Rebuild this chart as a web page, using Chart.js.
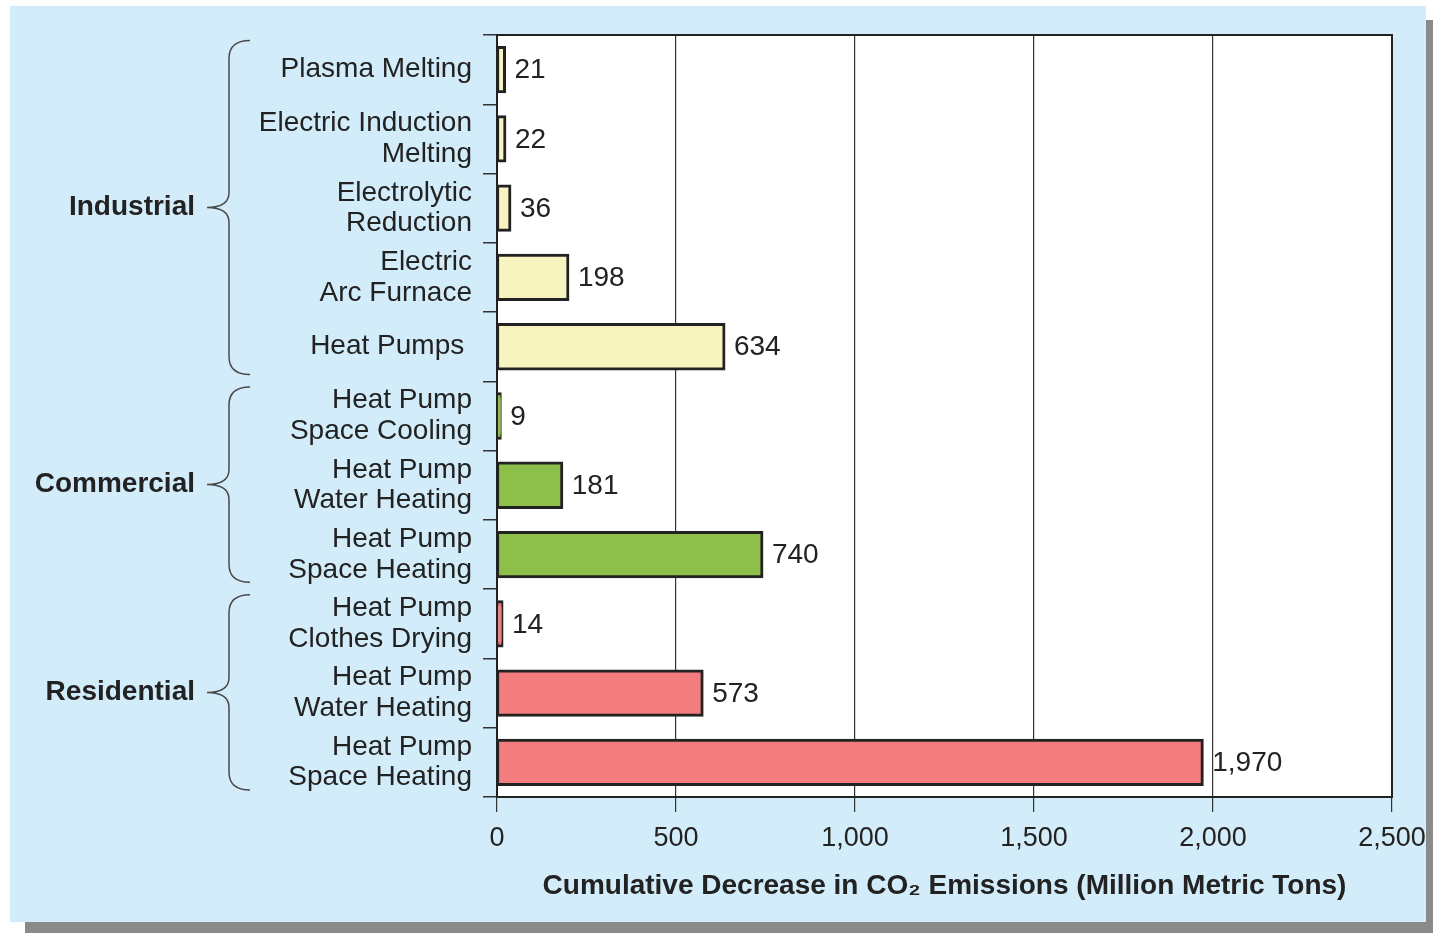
<!DOCTYPE html>
<html>
<head>
<meta charset="utf-8">
<script src="https://cdn.jsdelivr.net/npm/chart.js@4.4.1/dist/chart.umd.min.js"></script>
<style>
  body { margin: 0; background: #fff; }
  #wrap { position: relative; width: 1433px; height: 933px; }
</style>
</head>
<body>
<div id="wrap"><canvas id="co2Chart"></canvas></div>
<script>
const categories = [
    ["Plasma Melting"],
    ["Electric Induction", "Melting"],
    ["Electrolytic", "Reduction"],
    ["Electric", "Arc Furnace"],
    ["Heat Pumps "],
    ["Heat Pump", "Space Cooling"],
    ["Heat Pump", "Water Heating"],
    ["Heat Pump", "Space Heating"],
    ["Heat Pump", "Clothes Drying"],
    ["Heat Pump", "Water Heating"],
    ["Heat Pump", "Space Heating"]
];
const decreases = [21, 22, 36, 198, 634, 9, 181, 740, 14, 573, 1970];
const sectors = ["Industrial", "Commercial", "Residential"];
const sectorFirst = [0, 5, 8];
const sectorLast = [4, 7, 10];
const xTicks = [0, 500, 1000, 1500, 2000, 2500];
const xTitle = "Cumulative Decrease in CO\u2082 Emissions (Million Metric Tons)";

const sectorColors = ["#f8f4c0", "#8cc04b", "#f27c7e"];
const FONT = "'Liberation Sans', Arial, sans-serif";
const INK = "#222";

let barColors = [];
for (let i = 0; i < decreases.length; i++) {
    let s = sectorFirst.findIndex((f, k) => i >= f && i <= sectorLast[k]);
    barColors.push(sectorColors[s]);
}

// blue panel with drop shadow, white plot area
const panelPlugin = {
    id: 'panel',
    beforeDraw(chart) {
        const ctx = chart.ctx;
        const a = chart.chartArea;
        ctx.save();
        ctx.fillStyle = "#8a8a8a";
        ctx.fillRect(25, 20, 1408, 913);
        ctx.fillStyle = "#d3ecf9";
        ctx.fillRect(10, 6, 1416, 916);
        ctx.fillStyle = "#fff";
        ctx.fillRect(a.left, a.top, a.right - a.left, a.bottom - a.top);
        ctx.restore();
    },
    afterDraw(chart) {
        const ctx = chart.ctx;
        const a = chart.chartArea;
        ctx.save();
        ctx.strokeStyle = INK;
        ctx.lineWidth = 2;
        ctx.strokeRect(a.left, a.top, a.right - a.left, a.bottom - a.top);
        ctx.restore();
    }
};

const valuePlugin = {
    id: 'values',
    afterDatasetsDraw(chart) {
        const ctx = chart.ctx;
        const meta = chart.getDatasetMeta(0);
        ctx.save();
        ctx.font = "28px " + FONT;
        ctx.fillStyle = INK;
        ctx.textBaseline = "middle";
        ctx.textAlign = "left";
        meta.data.forEach((bar, i) => {
            ctx.fillText(decreases[i].toLocaleString('en-US'), bar.x + 10, bar.y + 1);
        });
        ctx.restore();
    }
};

function drawBrace(ctx, x, tipX, top, bottom) {
    const mid = (top + bottom) / 2;
    ctx.beginPath();
    ctx.moveTo(x + 21, top);
    ctx.quadraticCurveTo(x, top, x, top + 18);
    ctx.lineTo(x, mid - 15);
    ctx.quadraticCurveTo(x, mid, tipX, mid);
    ctx.quadraticCurveTo(x, mid, x, mid + 15);
    ctx.lineTo(x, bottom - 18);
    ctx.quadraticCurveTo(x, bottom, x + 21, bottom);
    ctx.stroke();
}

const sectorPlugin = {
    id: 'sectors',
    afterDraw(chart) {
        const ctx = chart.ctx;
        const y = chart.scales.y;
        const band = y.getPixelForValue(1) - y.getPixelForValue(0);
        ctx.save();
        ctx.strokeStyle = "#4a4a4a";
        ctx.lineWidth = 1.5;
        ctx.fillStyle = INK;
        ctx.font = "bold 28px " + FONT;
        ctx.textAlign = "right";
        ctx.textBaseline = "middle";
        sectors.forEach((name, k) => {
            const top = y.getPixelForValue(sectorFirst[k]) - band * 0.42;
            const bottom = y.getPixelForValue(sectorLast[k]) + band * 0.4;
            drawBrace(ctx, 229, 207, top, bottom);
            ctx.fillText(name, 195, (top + bottom) / 2);
        });
        ctx.restore();
    }
};

var ctx = document.getElementById('co2Chart');

var co2Chart = new Chart(ctx, {
    type: 'bar',
    data: {
        labels: categories,
        datasets: [{
            data: decreases,
            backgroundColor: barColors,
            borderColor: INK,
            borderWidth: 3,
            borderSkipped: false,
            inflateAmount: 1.5,
            categoryPercentage: 1,
            barPercentage: 0.64
        }]
    },
    options: {
        indexAxis: 'y',
        responsive: true,
        maintainAspectRatio: false,
        animation: false,
        layout: { padding: { top: 35, right: 41, bottom: 0, left: 0 } },
        plugins: {
            legend: false,
            tooltip: false
        },
        scales: {
            x: {
                min: xTicks[0],
                max: xTicks[xTicks.length - 1],
                ticks: {
                    stepSize: xTicks[1] - xTicks[0],
                    color: INK,
                    padding: 10,
                    font: { family: FONT, size: 27 },
                    callback: v => v.toLocaleString('en-US')
                },
                grid: { color: "#333", lineWidth: 1.2, tickLength: 15 },
                border: { color: INK, width: 2 },
                title: {
                    display: true,
                    text: xTitle,
                    color: INK,
                    font: { family: FONT, size: 28, weight: 'bold' },
                    padding: { top: 0, bottom: 30 }
                },
                afterFit(scale) {
                    scale.height = 136;
                    scale.paddingLeft = 0;
                    scale.paddingRight = 0;
                }
            },
            y: {
                ticks: {
                    color: INK,
                    padding: 11,
                    font: { family: FONT, size: 28, lineHeight: 1.1 }
                },
                grid: { offset: true, drawOnChartArea: false, color: "#333", lineWidth: 1.5, tickLength: 14 },
                border: { color: INK, width: 2 },
                afterFit(scale) {
                    scale.width = 497;
                    scale.paddingTop = 0;
                    scale.paddingBottom = 0;
                }
            }
        }
    },
    plugins: [panelPlugin, valuePlugin, sectorPlugin]
});
</script>
</body>
</html>
